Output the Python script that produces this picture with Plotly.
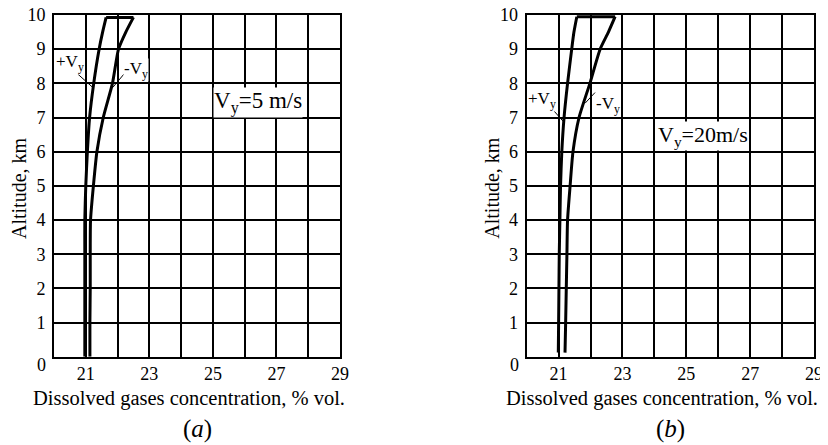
import plotly.graph_objects as go

# The page body adds an 8px margin, so the figure is drawn 8px smaller and
# positions below are given in window pixels and converted.
WIN_W, WIN_H = 828, 445
OFF = 8
W, H = WIN_W - OFF, WIN_H - OFF

# ---------------- data ----------------
alt = [0, 1, 2, 3, 4, 5, 6, 7, 8, 9, 9.5, 9.93]

# panel (a): Vy = 5 m/s
a_plus = [20.97, 20.97, 20.97, 20.97, 20.97, 21.0, 21.05, 21.12, 21.25, 21.42, 21.53, 21.64]
a_minus = [21.13, 21.13, 21.14, 21.14, 21.15, 21.24, 21.35, 21.55, 21.84, 22.03, 22.26, 22.5]

# panel (b): Vy = 20 m/s
alt_b = [0.12, 1, 2, 3, 4, 5, 6, 7, 8, 9, 9.5, 9.95]
b_plus = [20.99, 21.0, 21.01, 21.02, 21.04, 21.06, 21.1, 21.17, 21.28, 21.41, 21.48, 21.57]
b_minus = [21.2, 21.22, 21.24, 21.26, 21.28, 21.36, 21.45, 21.64, 21.98, 22.3, 22.56, 22.77]

x_tickvals = [20, 21, 22, 23, 24, 25, 26, 27, 28, 29]
x_ticktext = ["", "21", "", "23", "", "25", "", "27", "", "29"]
y_tickvals = [0, 1, 2, 3, 4, 5, 6, 7, 8, 9, 10]
y_ticktext = ["", "1", "2", "3", "4", "5", "6", "7", "8", "9", "10"]

x_title = "Dissolved gases concentration, % vol."
y_title = "Altitude, km"
panel_labels = ["(<i>a</i>)", "(<i>b</i>)"]
vy_labels = ["V<sub>y</sub>=5 m/s", "V<sub>y</sub>=20m/s"]

FONT = "Liberation Serif"


def px(x):
    return (x - OFF) / W


def py(y):
    return 1 - (y - OFF) / H


# layout geometry (paper fractions)
xa_dom = [px(54), px(340)]
xb_dom = [px(526.7), px(814)]
y_dom = [py(356.7), py(15)]

fig = go.Figure()

line = dict(color="black", width=3, shape="spline", smoothing=0.6)
hline = dict(color="black", width=3)
fig.add_trace(go.Scatter(x=a_plus, y=alt, mode="lines", line=line, xaxis="x", yaxis="y", showlegend=False))
fig.add_trace(go.Scatter(x=a_minus, y=alt, mode="lines", line=line, xaxis="x", yaxis="y", showlegend=False))
fig.add_trace(go.Scatter(x=[a_plus[-1], a_minus[-1]], y=[alt[-1], alt[-1]], mode="lines", line=hline,
                         xaxis="x", yaxis="y", showlegend=False))
fig.add_trace(go.Scatter(x=b_plus, y=alt_b, mode="lines", line=line, xaxis="x2", yaxis="y2", showlegend=False))
fig.add_trace(go.Scatter(x=b_minus, y=alt_b, mode="lines", line=line, xaxis="x2", yaxis="y2", showlegend=False))
fig.add_trace(go.Scatter(x=[b_plus[-1], b_minus[-1]], y=[alt_b[-1], alt_b[-1]], mode="lines", line=hline,
                         xaxis="x2", yaxis="y2", showlegend=False))

xax = dict(range=[20, 29], tickvals=x_tickvals, ticktext=x_ticktext, showgrid=True, gridcolor="black",
           gridwidth=2, showline=True, linecolor="black", linewidth=2, mirror=True, ticks="",
           zeroline=False, tickfont=dict(family=FONT, size=18, color="black"), ticklabelstandoff=0,
           automargin=False, ticklabeloverflow="allow", fixedrange=True)
yax = dict(range=[0, 10], tickvals=y_tickvals, ticktext=y_ticktext, showgrid=True, gridcolor="black",
           gridwidth=2, showline=True, linecolor="black", linewidth=2, mirror=True, ticks="",
           zeroline=False, tickfont=dict(family=FONT, size=18, color="black"), ticklabelstandoff=3,
           automargin=False, ticklabeloverflow="allow", domain=y_dom, fixedrange=True)

fig.update_layout(
    template="none",
    width=W, height=H, margin=dict(l=0, r=0, t=0, b=0, pad=0),
    paper_bgcolor="white", plot_bgcolor="white",
    xaxis=dict(xax, domain=xa_dom, anchor="y"),
    yaxis=dict(yax, anchor="x"),
    xaxis2=dict(xax, domain=xb_dom, anchor="y2"),
    yaxis2=dict(yax, anchor="x2"),
    font=dict(family=FONT, color="black", size=18),
)

ann = []
for i, (xd, xr, yr) in enumerate([(xa_dom, "x", "y"), (xb_dom, "x2", "y2")]):
    cx = (xd[0] + xd[1]) / 2
    # "0" tick (lowered, as in the original)
    ann.append(dict(text="0", x=xd[0], xref="paper", y=y_dom[0], yref="paper", xanchor="right",
                    yanchor="middle", xshift=-6, yshift=-8, showarrow=False,
                    font=dict(family=FONT, size=18, color="black")))
    ann.append(dict(text=x_title, x=cx, xref="paper", xshift=-8, y=py(398), yref="paper",
                    xanchor="center", yanchor="middle", showarrow=False,
                    font=dict(family=FONT, size=20.5, color="black")))
    ann.append(dict(text=panel_labels[i], x=cx, xref="paper", y=py(429), yref="paper",
                    xanchor="center", yanchor="middle", showarrow=False,
                    font=dict(family=FONT, size=25, color="black")))
    ann.append(dict(text=y_title, x=xd[0], xshift=-35, xref="paper", y=(y_dom[0] + y_dom[1]) / 2 - 0.005,
                    yref="paper", xanchor="center", yanchor="middle", textangle=-90, showarrow=False,
                    font=dict(family=FONT, size=20, color="black")))

# curve labels and Vy labels (data coordinates, left edges)
lab_a = dict(plus=(20.03, 8.6), minus=(22.16, 8.4), vy=(25.0, 7.45))
lab_b = dict(plus=(20.02, 7.5), minus=(22.14, 7.38), vy=(24.09, 6.47))
leaders_a = [((20.75, 8.27), (21.22, 7.88)), ((22.2, 8.27), (21.85, 7.88))]
leaders_b = [((20.78, 7.27), (21.15, 6.88)), ((22.14, 7.73), (21.83, 7.42))]

for lab, xr, yr, vyt, vsz in [(lab_a, "x", "y", vy_labels[0], 23), (lab_b, "x2", "y2", vy_labels[1], 22)]:
    ann.append(dict(text="+V<sub>y</sub>", x=lab["plus"][0], y=lab["plus"][1], xref=xr, yref=yr,
                    xanchor="left", showarrow=False, font=dict(family=FONT, size=17, color="black"),
                    bgcolor="white", borderpad=0))
    ann.append(dict(text="-V<sub>y</sub>", x=lab["minus"][0], y=lab["minus"][1], xref=xr, yref=yr,
                    xanchor="left", showarrow=False, font=dict(family=FONT, size=17, color="black"),
                    bgcolor="white", borderpad=0))
    ann.append(dict(text=vyt, x=lab["vy"][0], y=lab["vy"][1], xref=xr, yref=yr,
                    xanchor="left", showarrow=False, font=dict(family=FONT, size=vsz, color="black"),
                    bgcolor="white", borderpad=0))

fig.update_layout(annotations=ann)

shapes = []
for leaders, xr, yr in [(leaders_a, "x", "y"), (leaders_b, "x2", "y2")]:
    for (x0, y0), (x1, y1) in leaders:
        shapes.append(dict(type="line", x0=x0, y0=y0, x1=x1, y1=y1, xref=xr, yref=yr,
                           line=dict(color="black", width=1)))
fig.update_layout(shapes=shapes)

fig.write_html("out.html")
